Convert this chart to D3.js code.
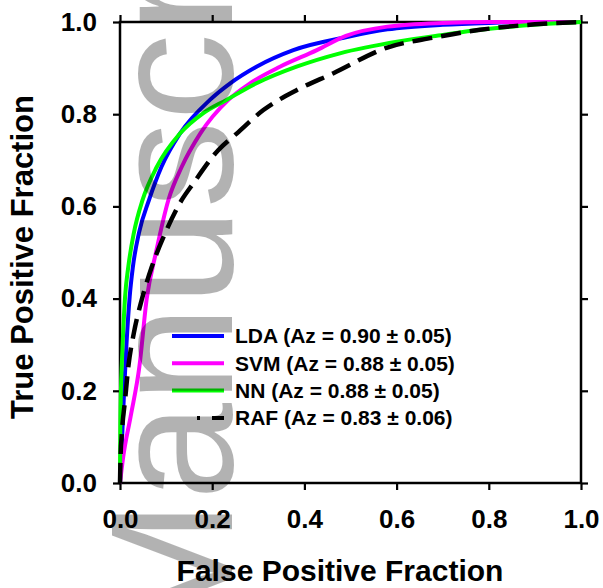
<!DOCTYPE html>
<html>
<head>
<meta charset="utf-8">
<script src="https://cdn.jsdelivr.net/npm/d3@7"></script>
<style>
  body { margin: 0; background: #fff; }
  svg { display: block; font-family: Arial, "Liberation Sans", sans-serif; }
</style>
</head>
<body>
<div id="roc"></div>
<script>
// ROC curves, [false positive fraction, true positive fraction]
const ldaPoints = [[0,0],[0.002,0.05],[0.005,0.108],[0.009,0.202],[0.014,0.3],[0.021,0.404],[0.028,0.469],[0.041,0.542],[0.063,0.614],[0.090,0.686],[0.130,0.758],[0.195,0.831],[0.239,0.867],[0.296,0.903],[0.376,0.939],[0.49,0.967],[0.58,0.984],[0.70,0.994],[0.80,0.998],[0.90,1.0],[1,1]];
const svmPoints = [[0,0],[0.007,0.057],[0.023,0.144],[0.042,0.252],[0.058,0.4],[0.078,0.5],[0.105,0.614],[0.134,0.686],[0.174,0.758],[0.235,0.831],[0.282,0.867],[0.347,0.903],[0.427,0.939],[0.49,0.97],[0.58,0.99],[0.70,0.998],[0.80,1.0],[1,1]];
const nnPoints = [[0,0],[0.0005,0.1],[0.002,0.2],[0.004,0.26],[0.007,0.33],[0.011,0.404],[0.018,0.469],[0.030,0.542],[0.049,0.614],[0.080,0.686],[0.130,0.758],[0.18,0.802],[0.231,0.831],[0.296,0.867],[0.383,0.903],[0.477,0.932],[0.604,0.958],[0.70,0.972],[0.781,0.983],[0.911,0.995],[1,1]];
const rafPoints = [[0,0],[0.001,0.05],[0.004,0.108],[0.011,0.18],[0.018,0.252],[0.030,0.325],[0.047,0.397],[0.069,0.469],[0.098,0.542],[0.134,0.614],[0.159,0.65],[0.213,0.722],[0.253,0.758],[0.311,0.809],[0.383,0.852],[0.463,0.889],[0.578,0.944],[0.68,0.966],[0.781,0.983],[0.9,0.995],[1,1]];

const seriesNames = ["LDA", "SVM", "NN", "RAF"];
const legendLabels = ["LDA (Az = 0.90 \u00b1 0.05)", "SVM (Az = 0.88 \u00b1 0.05)", "NN (Az = 0.88 \u00b1 0.05)", "RAF (Az = 0.83 \u00b1 0.06)"];
const tickValues = [0, 0.2, 0.4, 0.6, 0.8, 1.0];

const width = 603, height = 588;
const margin = { top: 22, right: 22, bottom: 105, left: 120 };
const plotW = width - margin.left - margin.right;
const plotH = height - margin.top - margin.bottom;

const svg = d3.select("#roc").append("svg")
  .attr("width", width)
  .attr("height", height);

const g = svg.append("g").attr("transform", `translate(${margin.left},${margin.top})`);

const x = d3.scaleLinear().domain([0, 1]).range([0, plotW]);
const y = d3.scaleLinear().domain([0, 1]).range([plotH, 0]);

// axes, ticks outward on all four sides
let xAxis = d3.axisBottom(x).tickValues(tickValues).tickSize(7).tickPadding(19.5).tickFormat(d3.format(".1f"));
let yAxis = d3.axisLeft(y).tickValues(tickValues).tickSize(7).tickPadding(16).tickFormat(d3.format(".1f"));

g.append("g").attr("class", "axis").attr("transform", `translate(0,${plotH})`).call(xAxis);
g.append("g").attr("class", "axis").call(yAxis);
g.append("g").attr("class", "axis").call(d3.axisTop(x).tickValues(tickValues).tickSize(7).tickFormat(""));
g.append("g").attr("class", "axis").attr("transform", `translate(${plotW},0)`)
  .call(d3.axisRight(y).tickValues(tickValues).tickSize(7).tickFormat(""));

g.selectAll(".axis .domain").remove();
g.selectAll(".axis line").attr("stroke", "#000").attr("stroke-width", 2.2);
g.selectAll(".axis text")
  .attr("fill", "#000")
  .style("font-size", "26px")
  .style("font-weight", "bold");

g.append("rect")
  .attr("width", plotW)
  .attr("height", plotH)
  .attr("fill", "none")
  .attr("stroke", "#000")
  .attr("stroke-width", 2.5);

// curves
const line = d3.line()
  .x(d => x(d[0]))
  .y(d => y(d[1]))
  .curve(d3.curveMonotoneX);

const curves = [
  { name: "LDA", pts: ldaPoints, color: "#0000ff", dash: null },
  { name: "SVM", pts: svmPoints, color: "#ff00ff", dash: null },
  { name: "NN", pts: nnPoints, color: "#00ff00", dash: null },
  { name: "RAF", pts: rafPoints, color: "#000000", dash: "20,9" }
];

curves.forEach(c => {
  g.append("path")
    .attr("d", line(c.pts))
    .attr("fill", "none")
    .attr("stroke", c.color)
    .attr("stroke-width", c.name == "RAF" ? 4.5 : 4)
    .attr("stroke-dasharray", c.dash);
});

// legend
let legend = g.append("g").attr("transform", `translate(${172 - margin.left},${336 - margin.top})`);
seriesNames.forEach((name, i) => {
  let c = curves[i];
  legend.append("line")
    .attr("x1", 0).attr("x2", 52)
    .attr("y1", i * 27.3).attr("y2", i * 27.3)
    .attr("stroke", c.color)
    .attr("stroke-width", 4)
    .attr("stroke-dasharray", name == "RAF" ? "0,25,3,12,12" : null);
  legend.append("text")
    .attr("x", 63)
    .attr("y", i * 27.3)
    .attr("dy", "0.35em")
    .style("font-size", "21px")
    .style("font-weight", "bold")
    .text(legendLabels[i]);
});

// axis titles
svg.append("text")
  .attr("x", 340)
  .attr("y", 581)
  .attr("text-anchor", "middle")
  .style("font-size", "30px")
  .style("font-weight", "bold")
  .text("False Positive Fraction");

svg.append("text")
  .attr("transform", "translate(33,257) rotate(-90)")
  .attr("text-anchor", "middle")
  .style("font-size", "31px")
  .style("font-weight", "bold")
  .text("True Positive Fraction");

// watermark
svg.append("text")
  .attr("transform", "translate(232,646) rotate(-90)")
  .style("font-size", "175px")
  .attr("fill", "#000")
  .attr("fill-opacity", 0.3)
  .text("Manuscript");
</script>
</body>
</html>
